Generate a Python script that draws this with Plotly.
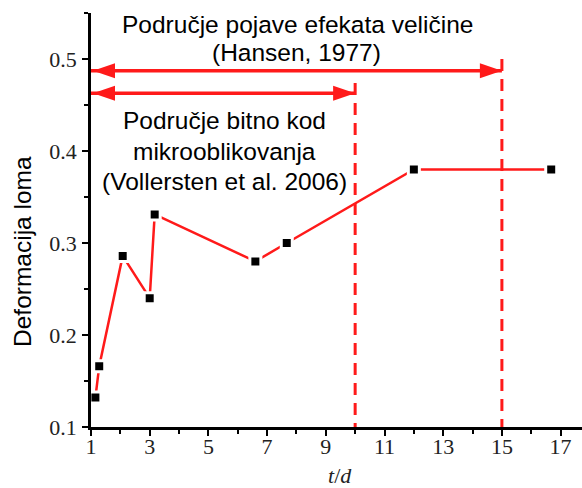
import plotly.graph_objects as go

# Measured fracture strain versus thickness-to-grain-size ratio
t_d = [1.15, 1.28, 2.08, 3.0, 3.17, 6.6, 7.67, 12.0, 16.68]
deformacija = [0.132, 0.166, 0.286, 0.24, 0.331, 0.28, 0.30, 0.38, 0.38]

# Ranges of t/d marked with arrows
hansen_range = [1, 15]        # size-effect region (Hansen, 1977)
vollersten_range = [1, 10]    # micro-forming region (Vollersten et al. 2006)

x_ticks = [1, 3, 5, 7, 9, 11, 13, 15, 17]
y_ticks = [0.1, 0.2, 0.3, 0.4, 0.5]

W, H = 582, 488
L, R, T, B = 91, 0, 13, 61
RED = "#ff1a1a"
SANS = "Liberation Sans, Arial, sans-serif"
SERIF = "Liberation Serif, Times New Roman, serif"


def px(xp, yp):
    """Pixel position on the page -> paper coordinates."""
    return (xp - L) / (W - L - R), (H - B - yp) / (H - T - B)


fig = go.Figure()

fig.add_trace(go.Scatter(
    x=t_d, y=deformacija, mode="lines+markers",
    line=dict(color=RED, width=2.5),
    marker=dict(symbol="square", size=11, color="black",
                line=dict(color="white", width=3)),
    showlegend=False, cliponaxis=False,
))

shapes = []
# range arrows
for rng, yv, top in [(hansen_range, 0.4873, 0.5), (vollersten_range, 0.4627, 0.474)]:
    shapes.append(dict(type="line", xref="x", yref="y", x0=rng[0], x1=rng[1],
                       y0=yv, y1=yv, line=dict(color=RED, width=3.5)))
    # left head (tip just right of axis)
    shapes.append(dict(type="path", xref="x", yref="y", xsizemode="pixel", ysizemode="pixel",
                       xanchor=rng[0], yanchor=yv, path="M 2,0 L 24,7.5 L 24,-7.5 Z",
                       fillcolor=RED, line=dict(width=0)))
    # right head
    shapes.append(dict(type="path", xref="x", yref="y", xsizemode="pixel", ysizemode="pixel",
                       xanchor=rng[1], yanchor=yv, path="M 0,0 L -22,7.5 L -22,-7.5 Z",
                       fillcolor=RED, line=dict(width=0)))
    # dashed boundary
    shapes.append(dict(type="line", xref="x", yref="y", x0=rng[1], x1=rng[1],
                       y0=top, y1=0.1, line=dict(color=RED, width=3, dash="12px,8px")))

annotations = []
for text, cx, cy in [
    ("Područje pojave efekata veličine", 297, 24),
    ("(Hansen, 1977)", 296.5, 53),
    ("Područje bitno kod", 224, 120),
    ("mikrooblikovanja", 224, 151),
    ("(Vollersten et al. 2006)", 224, 181),
]:
    ax_, ay_ = px(cx, cy)
    annotations.append(dict(text=text, x=ax_, y=ay_, xref="paper", yref="paper",
                            xanchor="center", yanchor="middle", showarrow=False,
                            font=dict(family=SANS, size=24.5, color="black")))

tx, ty = px(22, 252)
annotations.append(dict(text="Deformacija loma", x=tx, y=ty, xref="paper", yref="paper",
                        textangle=-90, xanchor="center", yanchor="middle", showarrow=False,
                        font=dict(family=SANS, size=24.5, color="black")))
xx, xy = px(340, 475)
annotations.append(dict(text="<i>t</i>/<i>d</i>", x=xx, y=xy, xref="paper", yref="paper",
                        xanchor="center", yanchor="middle", showarrow=False, borderpad=0,
                        font=dict(family=SERIF, size=22, color="#222")))

axis_common = dict(
    showgrid=False, zeroline=False, showline=True, linecolor="black", linewidth=2.5,
    ticks="outside", ticklen=6, tickwidth=2, tickcolor="black",
    tickfont=dict(family=SERIF, size=22, color="#222"),
    minor=dict(ticks="outside", ticklen=4, tickwidth=2, tickcolor="black", showgrid=False),
)

fig.update_layout(
    width=W, height=H, margin=dict(l=L, r=R, t=T, b=B),
    paper_bgcolor="white", plot_bgcolor="white",
    shapes=shapes, annotations=annotations,
    xaxis=dict(range=[1, 1 + (W - L - R) / 29.35], tickvals=x_ticks,
               minor_dtick=1, minor_tick0=0, ticklabelstandoff=-8, **axis_common),
    yaxis=dict(range=[0.1, 0.55], tickvals=y_ticks, ticktext=[f"{v:.1f}" for v in y_ticks],
               minor_dtick=0.05, minor_tick0=0.1, ticklabelstandoff=1, **axis_common),
)

fig.write_html("out.html")
